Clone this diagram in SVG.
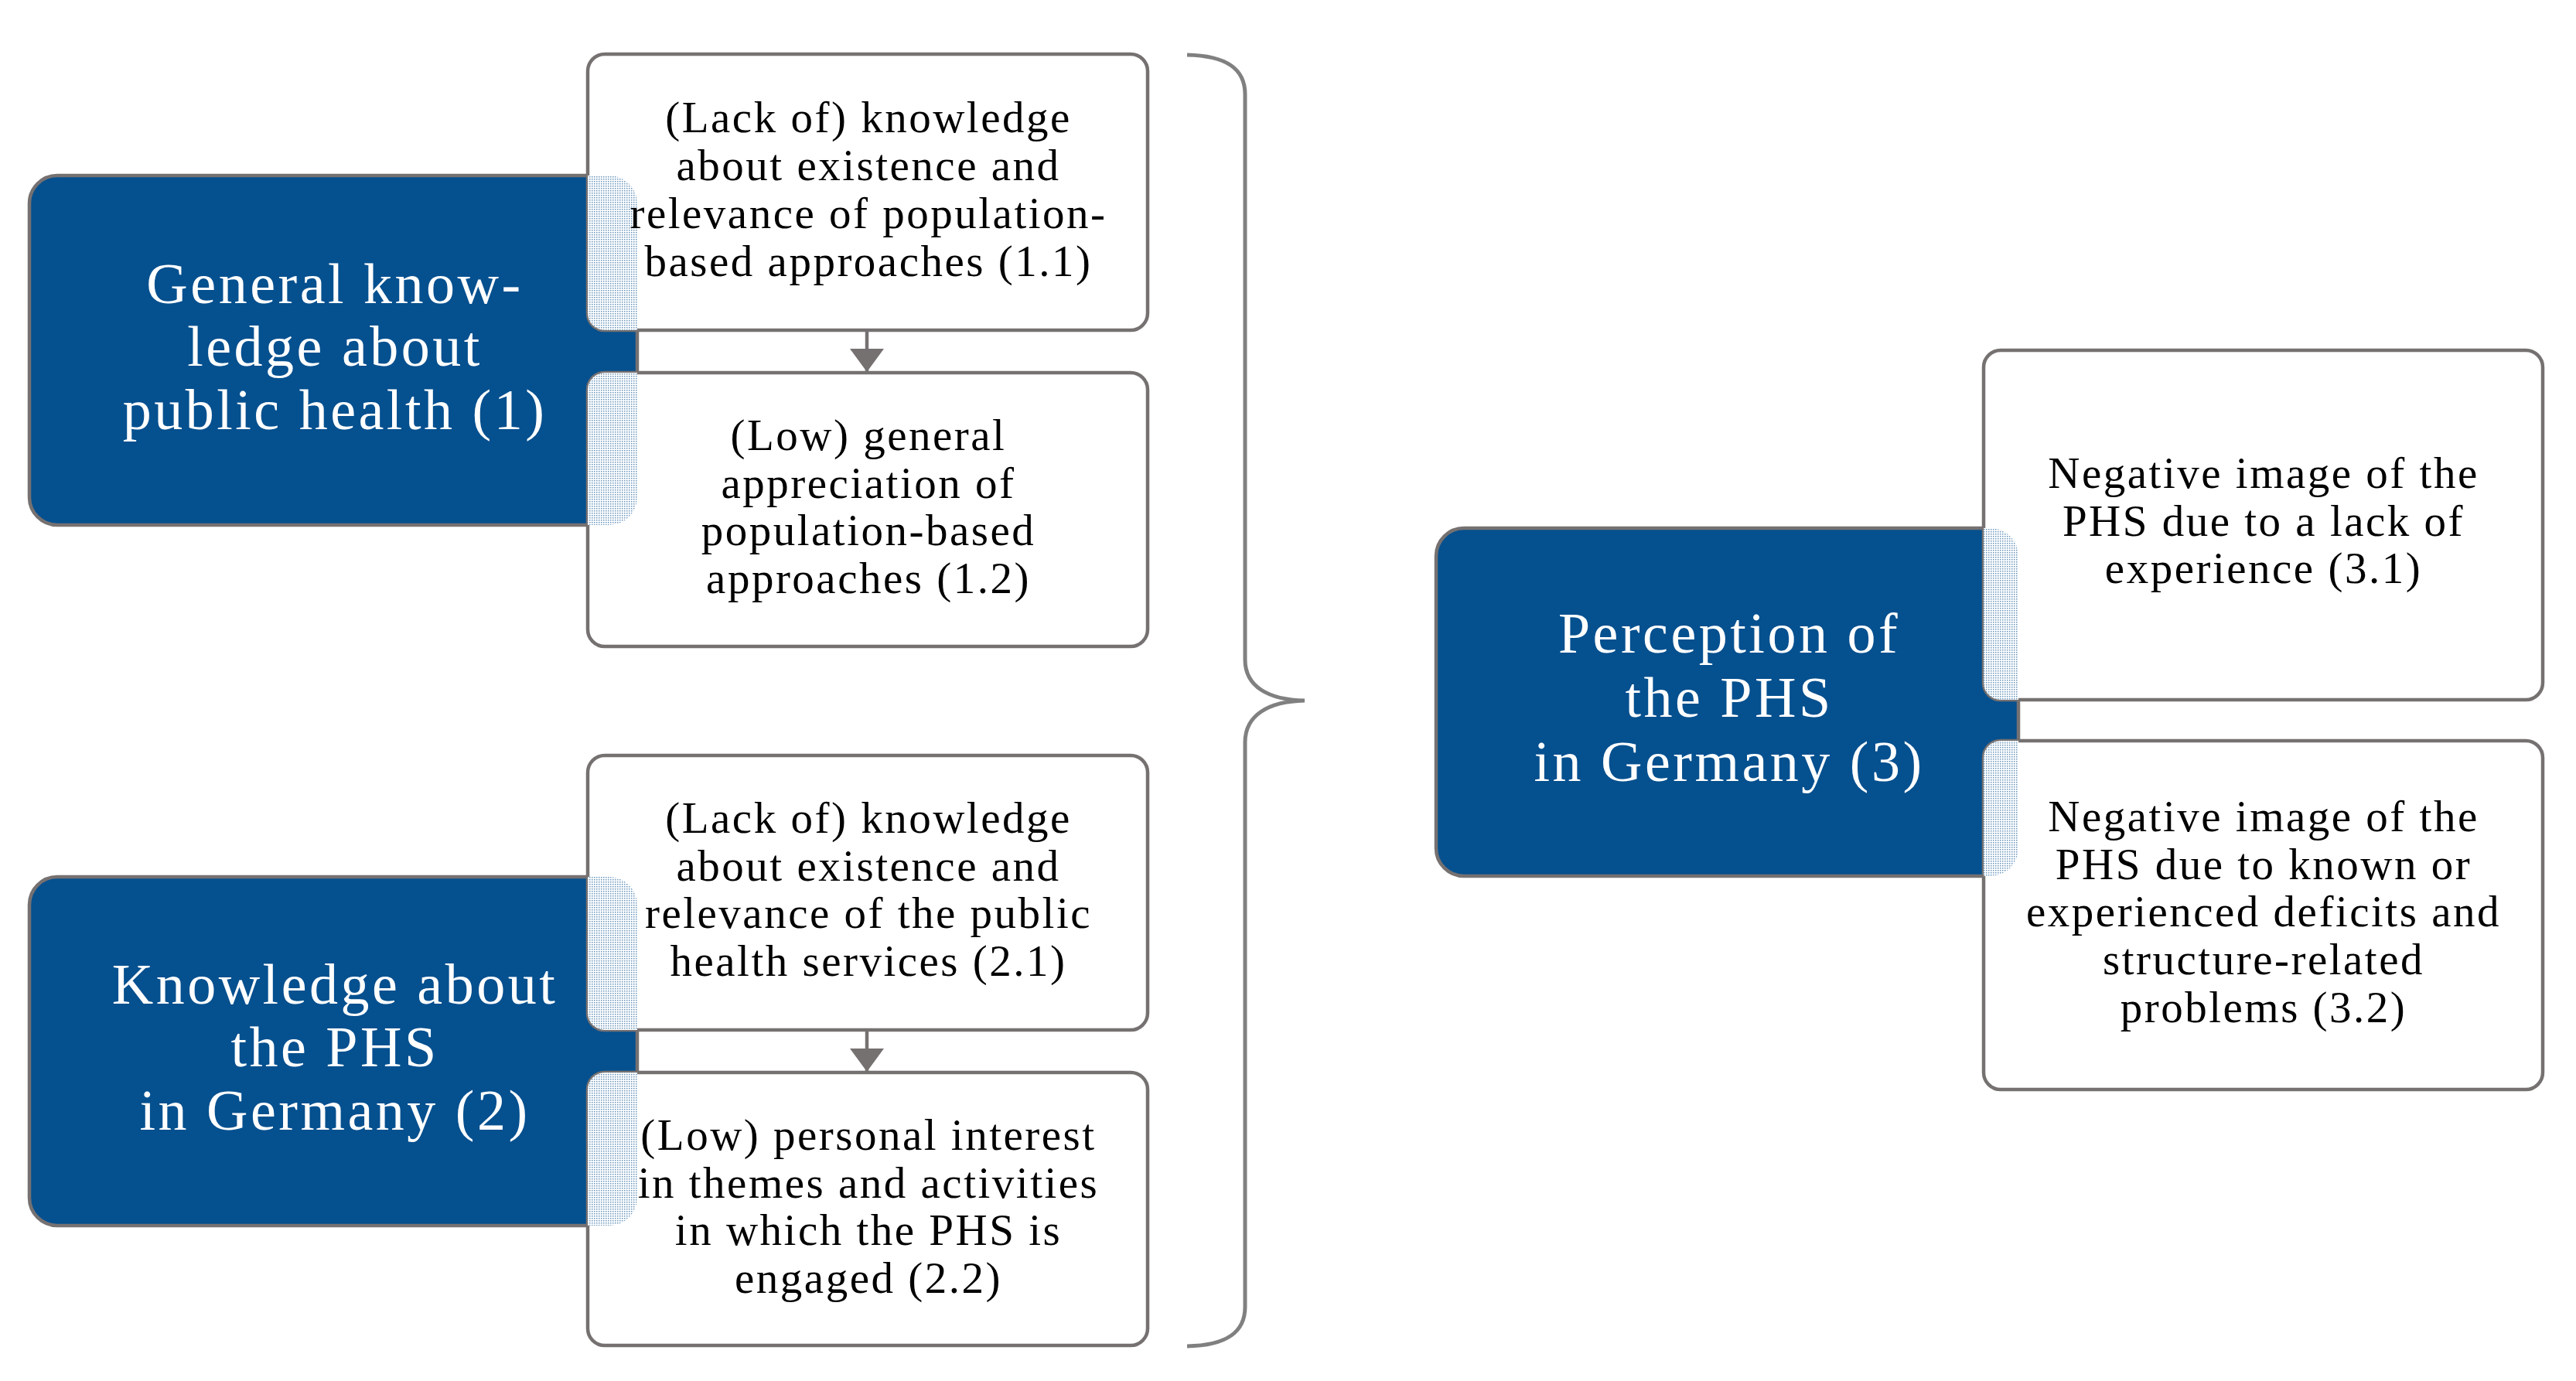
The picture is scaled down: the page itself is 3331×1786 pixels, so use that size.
<svg xmlns="http://www.w3.org/2000/svg" width="3331" height="1786" viewBox="0 0 3331 1786">
<style>
.blue{fill:#05508f;stroke:#767171;stroke-width:4.5}
.box{fill:#ffffff;stroke:#767171;stroke-width:4.5}
.dots{fill:url(#dotpat);stroke:none}
.t{font-family:"Liberation Serif","Times New Roman",serif;font-size:57px;letter-spacing:2.5px;fill:#000;text-anchor:middle}
.tw{font-family:"Liberation Serif","Times New Roman",serif;font-size:74px;letter-spacing:3.5px;fill:#fff;text-anchor:middle}
.conn{stroke:#767171;stroke-width:4.5;fill:none}
.brace{stroke:#808080;stroke-width:5;fill:none}
</style>
<defs>
<pattern id="dotpat" width="3" height="3" patternUnits="userSpaceOnUse">
<rect width="3" height="3" fill="#ffffff"/>
<rect width="1.5" height="1.5" fill="#05508f" opacity="0.6"/>
</pattern>
<marker id="arr" viewBox="0 0 30 44" refX="30" refY="22" markerWidth="30" markerHeight="44" markerUnits="userSpaceOnUse" orient="auto">
<path d="M0,0 L30,22 L0,44 z" fill="#767171"/>
</marker>
<clipPath id="c11"><rect x="760" y="70" width="724" height="357" rx="22"/></clipPath>
<clipPath id="c12"><rect x="760" y="482" width="724" height="354" rx="22"/></clipPath>
<clipPath id="c21"><rect x="760" y="977" width="724" height="355" rx="22"/></clipPath>
<clipPath id="c22"><rect x="760" y="1387" width="724" height="353" rx="22"/></clipPath>
<clipPath id="c31"><rect x="2565" y="453" width="723" height="452" rx="22"/></clipPath>
<clipPath id="c32"><rect x="2565" y="958" width="723" height="451" rx="22"/></clipPath>
</defs>
<rect width="3331" height="1786" fill="#ffffff"/>

<g id="n1">
<rect class="blue" x="38" y="227" width="786" height="452" rx="36"/>
</g>
<g id="n2">
<rect class="blue" x="38" y="1134" width="786" height="451" rx="36"/>
</g>
<g id="n3">
<rect class="blue" x="1857" y="683" width="753" height="450" rx="36"/>
</g>

<g id="n11">
<rect class="box" x="760" y="70" width="724" height="357" rx="22"/>
<rect class="dots" x="38" y="227" width="786" height="452" rx="36" clip-path="url(#c11)"/>
<text class="t"><tspan x="1123" y="171">(Lack of) knowledge</tspan><tspan x="1123" y="233">about existence and</tspan><tspan x="1123" y="295">relevance of population-</tspan><tspan x="1123" y="357">based approaches (1.1)</tspan></text>
</g>
<g id="n12">
<rect class="box" x="760" y="482" width="724" height="354" rx="22"/>
<rect class="dots" x="38" y="227" width="786" height="452" rx="36" clip-path="url(#c12)"/>
<text class="t"><tspan x="1123" y="582">(Low) general</tspan><tspan x="1123" y="644">appreciation of</tspan><tspan x="1123" y="705">population-based</tspan><tspan x="1123" y="767">approaches (1.2)</tspan></text>
</g>
<g id="n21">
<rect class="box" x="760" y="977" width="724" height="355" rx="22"/>
<rect class="dots" x="38" y="1134" width="786" height="451" rx="36" clip-path="url(#c21)"/>
<text class="t"><tspan x="1123" y="1077">(Lack of) knowledge</tspan><tspan x="1123" y="1139">about existence and</tspan><tspan x="1123" y="1200">relevance of the public</tspan><tspan x="1123" y="1262">health services (2.1)</tspan></text>
</g>
<g id="n22">
<rect class="box" x="760" y="1387" width="724" height="353" rx="22"/>
<rect class="dots" x="38" y="1134" width="786" height="451" rx="36" clip-path="url(#c22)"/>
<text class="t"><tspan x="1123" y="1487">(Low) personal interest</tspan><tspan x="1123" y="1549">in themes and activities</tspan><tspan x="1123" y="1610">in which the PHS is</tspan><tspan x="1123" y="1672">engaged (2.2)</tspan></text>
</g>
<g id="n31">
<rect class="box" x="2565" y="453" width="723" height="452" rx="22"/>
<rect class="dots" x="1857" y="683" width="753" height="450" rx="36" clip-path="url(#c31)"/>
<text class="t"><tspan x="2927" y="631">Negative image of the</tspan><tspan x="2927" y="693">PHS due to a lack of</tspan><tspan x="2927" y="754">experience (3.1)</tspan></text>
</g>
<g id="n32">
<rect class="box" x="2565" y="958" width="723" height="451" rx="22"/>
<rect class="dots" x="1857" y="683" width="753" height="450" rx="36" clip-path="url(#c32)"/>
<text class="t"><tspan x="2927" y="1075">Negative image of the</tspan><tspan x="2927" y="1137">PHS due to known or</tspan><tspan x="2927" y="1198">experienced deficits and</tspan><tspan x="2927" y="1260">structure-related</tspan><tspan x="2927" y="1322">problems (3.2)</tspan></text>
</g>

<g id="n1-label"><text class="tw"><tspan x="433" y="392">General know-</tspan><tspan x="433" y="473">ledge about</tspan><tspan x="433" y="555">public health (1)</tspan></text></g>
<g id="n2-label"><text class="tw"><tspan x="433" y="1298">Knowledge about</tspan><tspan x="433" y="1379">the PHS</tspan><tspan x="433" y="1461">in Germany (2)</tspan></text></g>
<g id="n3-label"><text class="tw"><tspan x="2236" y="844">Perception of</tspan><tspan x="2236" y="927">the PHS</tspan><tspan x="2236" y="1010">in Germany (3)</tspan></text></g>

<g id="connectors">
<line class="conn" x1="1121" y1="427" x2="1121" y2="481" marker-end="url(#arr)"/>
<line class="conn" x1="1121" y1="1332" x2="1121" y2="1386" marker-end="url(#arr)"/>
</g>
<g id="brace">
<path class="brace" d="M1535,71 C1585,72 1610,88 1610,122 L1610,853 C1610,888 1640,905 1687,906 C1640,907 1610,925 1610,960 L1610,1690 C1610,1724 1585,1740 1535,1741"/>
</g>
</svg>
